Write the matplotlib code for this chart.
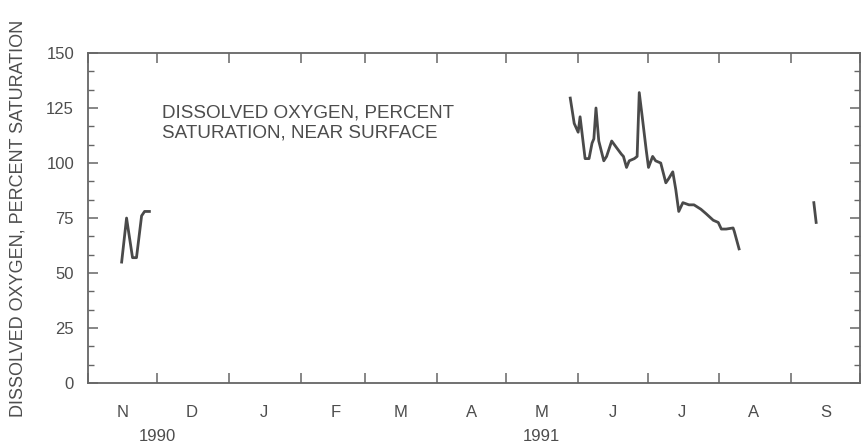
import matplotlib
matplotlib.use("Agg")
import matplotlib.pyplot as plt
import matplotlib.dates as mdates
from matplotlib.ticker import MultipleLocator, AutoMinorLocator
import pandas as pd

# daily record of dissolved oxygen, percent saturation, near surface
nov_dates = ["1990-11-15 14:00", "1990-11-17 17:00", "1990-11-18 10:00",
             "1990-11-20 07:00", "1990-11-22 00:00", "1990-11-24 05:00",
             "1990-11-25 12:00", "1990-11-27 14:00"]
nov_do = [55, 75, 70, 57, 57, 76, 78, 78]

summer_dates = ["1991-05-28 14:00", "1991-05-30 07:00", "1991-06-01 00:00",
                "1991-06-01 20:00", "1991-06-04 00:00", "1991-06-05 17:00",
                "1991-06-07 00:00", "1991-06-07 19:00", "1991-06-08 17:00",
                "1991-06-09 22:00", "1991-06-12 02:00", "1991-06-13 07:00",
                "1991-06-15 12:00", "1991-06-17 14:00", "1991-06-19 17:00",
                "1991-06-20 14:00", "1991-06-21 22:00", "1991-06-23 02:00",
                "1991-06-25 07:00", "1991-06-26 12:00", "1991-06-27 10:00",
                "1991-06-28 17:00", "1991-06-30 10:00", "1991-07-01 10:00",
                "1991-07-03 05:00", "1991-07-04 12:00", "1991-07-06 17:00",
                "1991-07-08 22:00", "1991-07-10 05:00", "1991-07-11 22:00",
                "1991-07-13 05:00", "1991-07-14 12:00", "1991-07-16 07:00",
                "1991-07-18 22:00", "1991-07-21 02:00", "1991-07-24 02:00",
                "1991-07-26 07:00", "1991-07-29 10:00", "1991-07-31 14:00",
                "1991-08-01 22:00", "1991-08-04 00:00", "1991-08-07 00:00",
                "1991-08-07 12:00", "1991-08-09 14:00"]
summer_do = [129.5, 118, 114, 121, 102, 102, 109, 111, 125, 110, 101, 103,
             110, 107, 104, 103, 98, 101, 102, 103, 132, 121, 106, 98,
             103, 101, 100, 91, 93, 96, 88, 78, 82, 81, 81, 79,
             77, 74, 73, 70, 70, 70.5, 69, 61]

sep_dates = ["1991-09-10 22:00", "1991-09-11 22:00"]
sep_do = [82, 73]

month_labels = ["N", "D", "J", "F", "M", "A", "M", "J", "J", "A", "S"]
year_labels = [("1990", "1990-12-01"), ("1991", "1991-05-16")]

ink = "#4d4d4d"
plt.rcParams["font.family"] = ["Liberation Sans", "DejaVu Sans"]

fig = plt.figure(figsize=(8.62, 4.45), dpi=100)
ax = fig.add_axes([0.102, 0.139, 0.896, 0.742])

for d, v in [(nov_dates, nov_do), (summer_dates, summer_do), (sep_dates, sep_do)]:
    ax.plot(pd.to_datetime(d), v, color="#4a4a4a", lw=2.0, solid_joinstyle="round")

ax.set_xlim(pd.Timestamp("1990-11-01"), pd.Timestamp("1991-10-01"))
ax.set_ylim(0, 150)

# month boundaries as ticks, letters centred in each month
ax.xaxis.set_major_locator(mdates.MonthLocator())
ax.xaxis.set_major_formatter(plt.NullFormatter())
ax.xaxis.set_minor_locator(mdates.MonthLocator(bymonthday=16))
ax.xaxis.set_minor_formatter(plt.FixedFormatter(month_labels))
ax.tick_params(axis="x", which="major", direction="in", length=7, width=1.1,
               top=True, color="#666666")
ax.tick_params(axis="x", which="minor", length=0, pad=16, labelsize=12,
               labelcolor=ink)

ax.yaxis.set_major_locator(MultipleLocator(25))
ax.yaxis.set_minor_locator(AutoMinorLocator(3))
ax.tick_params(axis="y", which="major", direction="in", length=7, width=1.1,
               right=True, color="#666666", labelsize=12, labelcolor=ink, pad=10)
ax.tick_params(axis="y", which="minor", direction="in", length=4, width=1.0,
               right=True, color="#666666")

for s in ax.spines.values():
    s.set_color("#666666")
    s.set_linewidth(1.3)

for txt, d in year_labels:
    ax.text(pd.Timestamp(d), -0.14, txt, transform=ax.get_xaxis_transform(),
            ha="center", va="top", fontsize=12, color=ink)

ax.text(pd.Timestamp("1990-12-03"), 126.5, "DISSOLVED OXYGEN, PERCENT\nSATURATION, NEAR SURFACE",
        ha="left", va="top", fontsize=13.6, color=ink, linespacing=1.25)

fig.text(18 / 862, 1 - 218 / 445, "DISSOLVED OXYGEN, PERCENT SATURATION",
         rotation=90, ha="center", va="center", fontsize=13, color=ink)

fig.savefig("out.png", dpi=100)
